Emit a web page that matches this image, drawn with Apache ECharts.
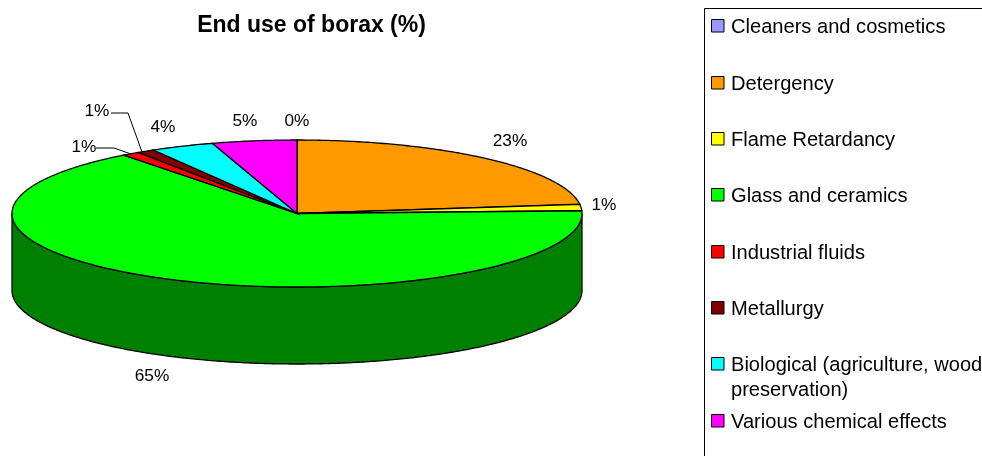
<!DOCTYPE html>
<html>
<head>
<meta charset="utf-8">
<title>End use of borax (%)</title>
<script src="https://cdn.jsdelivr.net/npm/echarts@6/dist/echarts.min.js"></script>
<style>
  html, body { margin: 0; padding: 0; background: #fff; }
  #main { width: 982px; height: 456px; }
</style>
</head>
<body>
<div id="main"></div>
<script>
var categories = ["Cleaners and cosmetics", "Detergency", "Flame Retardancy", "Glass and ceramics",
  "Industrial fluids", "Metallurgy", "Biological (agriculture, wood\npreservation)", "Various chemical effects"];
var values = [0, 23, 1.4, 65.2, 1, 1, 3.6, 4.8];
var colors = ["#9999ff", "#ff9900", "#ffff00", "#00ff00", "#ff0000", "#800000", "#00ffff", "#ff00ff"];
var wallColors = ["#4d4d80", "#804d00", "#808000", "#008000", "#800000", "#400000", "#008080", "#800080"];

// where the labels sit, same order as the categories
var labelPos = [[297, 121], [510, 141], [604, 205], [152, 376], [84, 147], [97, 111], [163, 127], [245, 121]];
var leaders = [
  null, null, null, null,
  [[96, 148], [114, 148], [131, 154]],
  [[111, 113], [128, 113], [142, 152]],
  null, null
];
var legendY = [26, 83, 139, 195, 252, 308, 364, 421];

var cx = 297, cy = 213.5, rx = 285, ry = 73.5, depth = 77;
var font = "Liberation Sans, Arial, sans-serif";

var total = values.reduce(function (a, b) { return a + b; }, 0);
var starts = [];
values.reduce(function (sum, v, i) { starts[i] = sum; return sum + v; }, 0);

function toAngle(v) { return v / total * 2 * Math.PI; }

// point on the tilted disc, angle clockwise from the top
function rimPoint(a, dy) {
  return [cx + rx * Math.sin(a), cy - ry * Math.cos(a) + (dy || 0)];
}

function arcPoints(a0, a1, dy) {
  var pts = [], n = Math.max(2, Math.ceil((a1 - a0) / 0.01));
  for (var i = 0; i <= n; i++) {
    pts.push(rimPoint(a0 + (a1 - a0) * i / n, dy));
  }
  return pts;
}

function renderWall(params, api) {
  var i = api.value(0);
  // only the front half of the rim shows
  var a0 = Math.max(toAngle(starts[i]), Math.PI / 2);
  var a1 = Math.min(toAngle(starts[i] + values[i]), Math.PI * 1.5);
  if (a1 <= a0) return null;
  var pts = arcPoints(a0, a1, 0).concat(arcPoints(a0, a1, depth).reverse());
  return {
    type: "polygon",
    shape: { points: pts },
    style: { fill: wallColors[i], stroke: "#000", lineWidth: 1.3 }
  };
}

function renderTop(params, api) {
  var i = api.value(0);
  var a0 = toAngle(starts[i]);
  var a1 = toAngle(starts[i] + values[i]);
  return {
    type: "polygon",
    shape: { points: [[cx, cy]].concat(arcPoints(a0, a1, 0)) },
    style: { fill: colors[i], stroke: "#000", lineWidth: 1.3 }
  };
}

function renderLabel(params, api) {
  var i = api.value(0);
  var children = [{
    type: "text",
    style: {
      text: Math.round(values[i]) + "%",
      x: labelPos[i][0], y: labelPos[i][1],
      align: "center", verticalAlign: "middle",
      font: "17.3px " + font, fill: "#000"
    }
  }];
  if (leaders[i]) {
    children.push({
      type: "polyline",
      shape: { points: leaders[i] },
      style: { fill: null, stroke: "#000", lineWidth: 1 }
    });
  }
  return { type: "group", children: children };
}

var indexes = categories.map(function (c, i) { return [i]; });

var legendItems = [{
  type: "rect",
  shape: { x: 704.5, y: 8.5, width: 300, height: 470 },
  style: { fill: "#fff", stroke: "#000", lineWidth: 1 }
}];
categories.forEach(function (name, i) {
  legendItems.push({
    type: "rect",
    shape: { x: 711.5, y: legendY[i] - 6.5, width: 12.5, height: 12.5 },
    style: { fill: colors[i], stroke: "#000", lineWidth: 1 }
  });
  legendItems.push({
    type: "text",
    style: {
      text: name, x: 731, y: legendY[i] - 11,
      align: "left", verticalAlign: "top",
      font: "20.1px " + font, lineHeight: 25, fill: "#000"
    }
  });
});

var chart = echarts.init(document.getElementById("main"), null, { renderer: "canvas" });
chart.setOption({
  animation: false,
  backgroundColor: "#fff",
  title: {
    text: "End use of borax (%)",
    left: 306.5, top: 9, textAlign: "center",
    textStyle: { fontFamily: font, fontSize: 23, fontWeight: "bold", color: "#000" }
  },
  graphic: legendItems,
  series: [
    { type: "custom", coordinateSystem: "none", renderItem: renderWall, data: indexes, z: 1, silent: true },
    { type: "custom", coordinateSystem: "none", renderItem: renderTop, data: indexes, z: 2, silent: true },
    { type: "custom", coordinateSystem: "none", renderItem: renderLabel, data: indexes, z: 3, silent: true }
  ]
});
</script>
</body>
</html>
